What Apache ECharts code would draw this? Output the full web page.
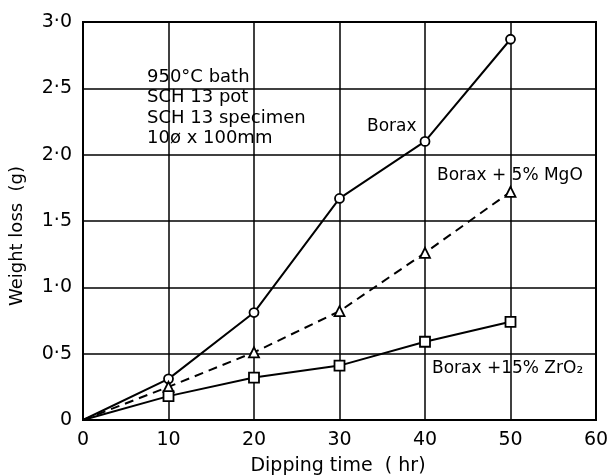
<!DOCTYPE html>
<html>
<head>
<meta charset="utf-8">
<script src="https://cdn.jsdelivr.net/npm/echarts@6/dist/echarts.min.js"></script>
<style>
  html, body { margin: 0; padding: 0; background: #fff; }
  #chart { width: 611px; height: 475px; }
</style>
</head>
<body>
<div id="chart"></div>
<script>
// dipping time (hr) and weight loss (g)
var times = [0, 10, 20, 30, 40, 50]
var borax = [0, 0.31, 0.81, 1.67, 2.1, 2.87]
var boraxMgO = [0, 0.25, 0.51, 0.82, 1.26, 1.72]
var boraxZrO2 = [0, 0.18, 0.32, 0.41, 0.59, 0.74]
var yTickLabels = ['0', '0·5', '1·0', '1·5', '2·0', '2·5', '3·0']
var xTickLabels = ['0', '10', '20', '30', '40', '50', '60']
var noteLines = ['950°C bath', 'SCH 13 pot', 'SCH 13 specimen', '10ø x 100mm']

var FONT = 'DejaVu Sans'

function points(ys) {
  // first point sits at the origin without a marker
  return times.map(function (t, i) {
    var p = { value: [t, ys[i]] }
    if (i === 0) p.symbol = 'none'
    return p
  })
}

function series(name, ys, symbol, size, dashed) {
  return {
    name: name,
    type: 'line',
    data: points(ys),
    symbol: symbol,
    symbolSize: size,
    showAllSymbol: true,
    z: 5,
    lineStyle: { color: '#000', width: 2, type: dashed ? [9, 6] : 'solid' },
    itemStyle: { color: '#fff', borderColor: '#000', borderWidth: 1.8 }
  }
}

function label(text, left, top, w, h) {
  return {
    type: 'group',
    left: left,
    top: top,
    z: 10,
    children: [
      { type: 'rect', shape: { x: 0, y: 0, width: w, height: h }, style: { fill: '#fff' } },
      {
        type: 'text', x: 3, y: h / 2,
        style: { text: text, font: '17px "' + FONT + '"', fill: '#000', verticalAlign: 'middle' }
      }
    ]
  }
}

var chart = echarts.init(document.getElementById('chart'))
chart.setOption({
  animation: false,
  grid: { left: 83, right: 15, top: 22, bottom: 55, containLabel: false, outerBoundsMode: 'none' },
  xAxis: {
    type: 'value',
    min: 0,
    max: 60,
    interval: 10,
    axisLine: { show: true, lineStyle: { color: '#000', width: 2 } },
    axisTick: { show: false },
    axisLabel: {
      fontFamily: FONT, fontSize: 19, color: '#000', margin: 11,
      formatter: function (v) { return xTickLabels[Math.round(v / 10)] }
    },
    splitLine: { show: true, lineStyle: { color: '#000', width: 1.5 } }
  },
  yAxis: {
    type: 'value',
    min: 0,
    max: 3,
    interval: 0.5,
    axisLine: { show: true, lineStyle: { color: '#000', width: 2 } },
    axisTick: { show: false },
    axisLabel: {
      fontFamily: FONT, fontSize: 19, color: '#000', margin: 11,
      formatter: function (v) { return yTickLabels[Math.round(v * 2)] }
    },
    splitLine: { show: true, lineStyle: { color: '#000', width: 1.5 } }
  },
  graphic: [
    // plot frame on the right and top
    {
      type: 'rect', z: 11, silent: true,
      shape: { x: 83, y: 22, width: 513, height: 398 },
      style: { fill: null, stroke: '#000', lineWidth: 2 }
    },
    // axis titles
    {
      type: 'text', x: 17, y: 236, rotation: Math.PI / 2,
      style: {
        text: 'Weight loss  (g)', font: '18px "' + FONT + '"', fill: '#000',
        align: 'center', verticalAlign: 'middle'
      }
    },
    {
      type: 'text', x: 338, y: 466,
      style: {
        text: 'Dipping time  ( hr)', font: '19px "' + FONT + '"', fill: '#000',
        align: 'center', verticalAlign: 'middle'
      }
    },
    {
      type: 'group', left: 139, top: 58, z: 10,
      children: [
        { type: 'rect', shape: { x: 0, y: 0, width: 166, height: 94 }, style: { fill: '#fff' } },
        {
          type: 'text', x: 8, y: 9,
          style: {
            text: noteLines.join('\n'),
            font: '18px "' + FONT + '"',
            lineHeight: 20.5,
            fill: '#000'
          }
        }
      ]
    },
    label('Borax', 364, 117, 54, 20),
    label('Borax + 5% MgO', 434, 166, 158, 20),
    label('Borax +15% ZrO₂', 429, 356, 162, 26)
  ],
  series: [
    series('Borax', borax, 'circle', 9, false),
    series('Borax + 5% MgO', boraxMgO, 'triangle', 10, true),
    series('Borax + 15% ZrO2', boraxZrO2, 'rect', 10, false)
  ]
})
</script>
</body>
</html>
